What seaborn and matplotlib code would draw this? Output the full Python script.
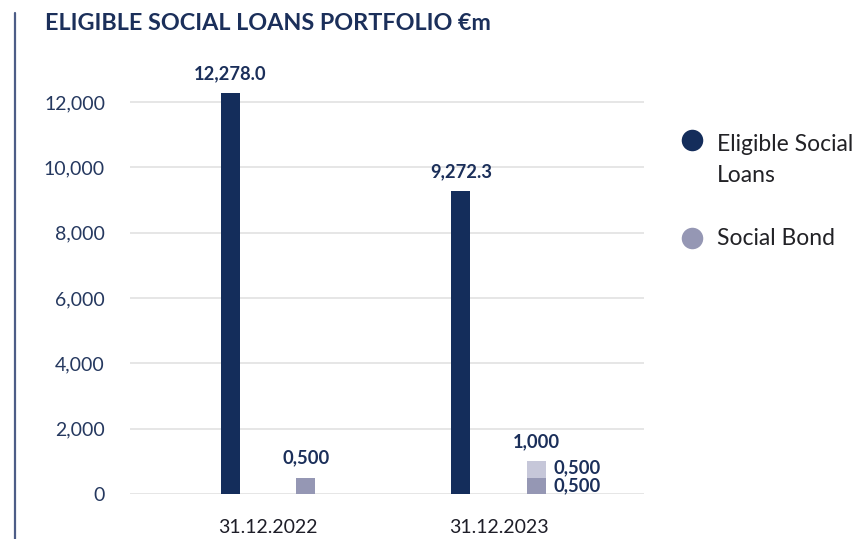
import matplotlib
matplotlib.use("Agg")
import matplotlib.pyplot as plt
from matplotlib.lines import Line2D
from matplotlib.ticker import StrMethodFormatter
import pandas as pd
import seaborn as sns

# Portfolio figures, € millions
periods = ["31.12.2022", "31.12.2023"]
eligible_loans = [12278.0, 9272.3]
social_bond_base = [500.0, 500.0]
social_bond_added = [0.0, 500.0]
eligible_labels = ["12,278.0", "9,272.3"]
bond_total_labels = ["0,500", "1,000"]
bond_part_labels = ["0,500", "0,500"]
y_ticks = [0, 2000, 4000, 6000, 8000, 10000, 12000]
legend_names = ["Eligible Social Loans", "Social Bond"]

NAVY = "#142d5b"
BOND = "#9597b4"
BOND_LIGHT = "#c6c7d9"
TEXT_NAVY = "#1b2f5a"

sns.set_theme(style="white")
plt.rcParams["font.family"] = ["Lato", "DejaVu Sans"]

bond_total = [b + a for b, a in zip(social_bond_base, social_bond_added)]

totals = pd.DataFrame({
    "period": periods * 2,
    "series": [legend_names[0]] * 2 + [legend_names[1]] * 2,
    "value": eligible_loans + bond_total,
})
bases = pd.DataFrame({
    "period": periods * 2,
    "series": [legend_names[0]] * 2 + [legend_names[1]] * 2,
    "value": eligible_loans + social_bond_base,
})

W, H = 860, 539
fig = plt.figure(figsize=(W / 100, H / 100), dpi=100)
ax = fig.add_axes([130 / W, 1 - 494 / H, (644 - 130) / W, (494 - 69.3) / H])

bar_kw = dict(x="period", y="value", hue="series", width=0.652, gap=0.747,
              saturation=1, linewidth=0, legend=False, ax=ax, errorbar=None)
# light layer = full social bond amount, darker layer = base tranche on top
sns.barplot(data=totals, palette=[NAVY, BOND_LIGHT], **bar_kw)
sns.barplot(data=bases, palette=[NAVY, BOND], **bar_kw)

ax.set_xlim(-0.599, 1.631)
ax.set_ylim(0, 13000)
ax.set_yticks(y_ticks)
ax.yaxis.set_major_formatter(StrMethodFormatter("{x:,.0f}"))
ax.grid(axis="y", color="#e2e2e2", linewidth=1.2)
ax.set_axisbelow(True)
for s in ax.spines.values():
    s.set_visible(False)
ax.set_xlabel("")
ax.set_ylabel("")
ax.tick_params(axis="y", length=0, pad=18, labelsize=14, labelcolor="#25385f")
ax.tick_params(axis="x", length=0, pad=18, labelsize=14, labelcolor="#1e1e28")

off = 0.163
lab_kw = dict(textcoords="offset points", ha="center", va="bottom",
              fontsize=13.2, fontweight="bold", color=TEXT_NAVY)
for i in range(len(periods)):
    ax.annotate(eligible_labels[i], (i - off, eligible_loans[i]), xytext=(0, 8), **lab_kw)
    ax.annotate(bond_total_labels[i], (i + off, bond_total[i]), xytext=(0, 8), **lab_kw)

# split labels beside the stacked 2023 social bond bar
i = 1
side_kw = dict(textcoords="offset points", ha="left", va="center",
               fontsize=13.2, fontweight="bold", color=TEXT_NAVY)
ax.annotate(bond_part_labels[0], (i + off + 0.041, social_bond_base[i] / 2),
            xytext=(6, 0), **side_kw)
ax.annotate(bond_part_labels[1], (i + off + 0.041, social_bond_base[i] + social_bond_added[i] / 2),
            xytext=(6, 1), **side_kw)

fig.text(45 / W, 1 - 24 / H, "ELIGIBLE SOCIAL LOANS PORTFOLIO €m",
         fontsize=16.8, fontweight="bold", color=TEXT_NAVY, va="center", ha="left")

fig.add_artist(Line2D([15 / W, 15 / W], [0, 1 - 13 / H], transform=fig.transFigure,
                      color="#4d5d87", linewidth=1.6))

# legend: filled circles with labels on the right side
legend_kw = dict(fontsize=16.5, color="#222226", ha="left", va="baseline")
for name, color, y_dot, y_lines in [
    (legend_names[0], NAVY, 140, [151, 182]),
    (legend_names[1], BOND, 238, [245]),
]:
    fig.add_artist(Line2D([692 / W], [1 - y_dot / H], transform=fig.transFigure,
                          marker="o", markersize=15.5, markerfacecolor=color,
                          markeredgewidth=0, linestyle=""))
    words = name.split(" ")
    lines = [" ".join(words[:2]), " ".join(words[2:])] if len(y_lines) == 2 else [name]
    for text, yb in zip(lines, y_lines):
        fig.text(717 / W, 1 - yb / H, text, **legend_kw)

fig.savefig("out.png", dpi=100)
